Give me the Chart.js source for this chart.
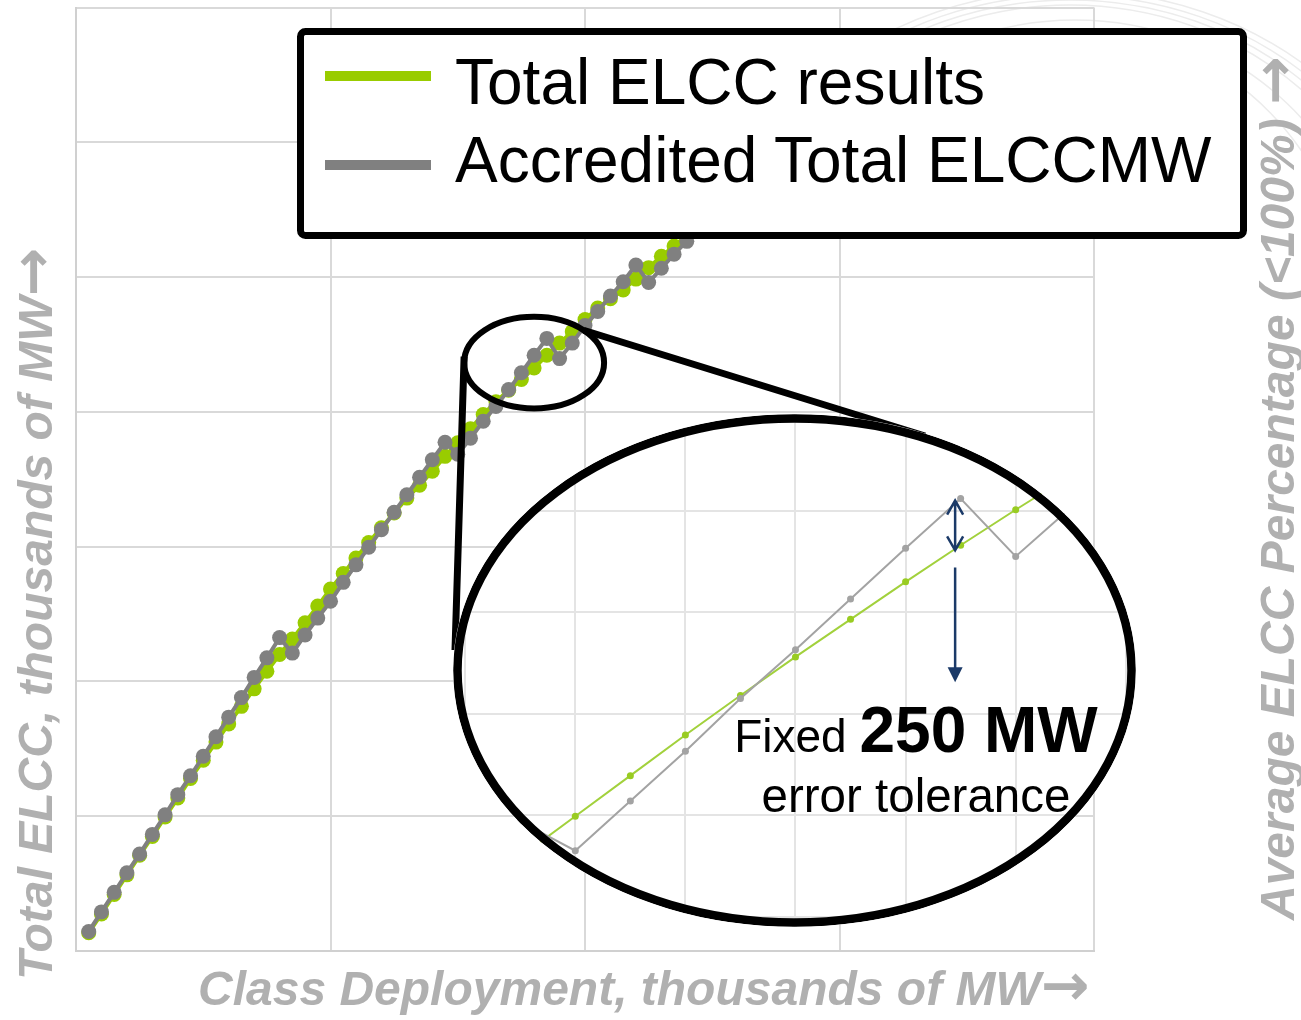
<!DOCTYPE html>
<html lang="en">
<head>
<meta charset="UTF-8">
<title>Total ELCC vs accredited ELCC</title>
<script src="https://cdn.jsdelivr.net/npm/chart.js"></script>
<style>
  html, body { margin: 0; padding: 0; background: #fff; }
  #wrap { position: relative; width: 1301px; height: 1020px; overflow: hidden; font-family: "Liberation Sans", Arial, sans-serif; }
  #bg, #overlay, #mainChart { position: absolute; left: 0; top: 0; }
  #zoomChart { position: absolute; left: 453px; top: 414px; clip-path: ellipse(50% 50% at 50% 50%); }
  svg text { font-family: "Liberation Sans", Arial, sans-serif; }
  svg .arr { font-family: "DejaVu Sans", sans-serif; font-style: normal; }
</style>
</head>
<body>
<div id="wrap">
  <svg id="bg" width="1301" height="1020">
    <defs>
      <clipPath id="corner">
        <rect x="700" y="0" width="601" height="28"/>
        <rect x="1094" y="0" width="207" height="300"/>
      </clipPath>
    </defs>
    <g clip-path="url(#corner)" fill="none" stroke="#ececec" stroke-width="1.5">
      <ellipse cx="1070" cy="300" rx="330" ry="295"/>
      <ellipse cx="1070" cy="300" rx="340" ry="300"/>
      <ellipse cx="1070" cy="300" rx="350" ry="305"/>
      <ellipse cx="1070" cy="300" rx="360" ry="310"/>
      <ellipse cx="1075" cy="305" rx="300" ry="285"/>
      <ellipse cx="1080" cy="310" rx="270" ry="278"/>
    </g>
  </svg>
  <canvas id="mainChart" width="1301" height="1020"></canvas>
  <canvas id="zoomChart" width="683" height="513"></canvas>
  <svg id="overlay" width="1301" height="1020">
    <!-- legend -->
    <rect x="300.5" y="31.5" width="943" height="204" rx="5" fill="#fff" stroke="#000" stroke-width="7"/>
    <rect x="325" y="71" width="106" height="10" fill="#99cc00"/>
    <rect x="325" y="160" width="106" height="10" fill="#808080"/>
    <text x="455" y="104" font-size="64" fill="#000">Total ELCC results</text>
    <text x="455" y="182" font-size="64" fill="#000">Accredited Total ELCCMW</text>
    <!-- axis titles -->
    <text transform="translate(52,980) rotate(-90)" font-size="48" font-weight="bold" font-style="italic" fill="#b0b0b0">Total ELCC, thousands of MW<tspan class="arr" font-size="58">→</tspan></text>
    <text x="198" y="1005" font-size="48" font-weight="bold" font-style="italic" fill="#b0b0b0">Class Deployment, thousands of MW<tspan class="arr" font-size="58">→</tspan></text>
    <text transform="translate(1294,920) rotate(-90)" font-size="48" font-weight="bold" font-style="italic" fill="#b0b0b0">Average ELCC Percentage (&lt;100%) <tspan class="arr" font-size="58">→</tspan></text>
    <!-- inset note -->
    <text x="916" y="752" text-anchor="middle" font-size="46" fill="#000">Fixed <tspan font-weight="bold" font-size="64">250 MW</tspan></text>
    <text x="916" y="812" text-anchor="middle" font-size="47.5" fill="#000">error tolerance</text>
  </svg>
</div>

<script>
// class deployment, thousands of MW (one point per 250 MW step)
const deployment = [0.25, 0.5, 0.75, 1, 1.25, 1.5, 1.75, 2, 2.25, 2.5,
  2.75, 3, 3.25, 3.5, 3.75, 4, 4.25, 4.5, 4.75, 5,
  5.25, 5.5, 5.75, 6, 6.25, 6.5, 6.75, 7, 7.25, 7.5,
  7.75, 8, 8.25, 8.5, 8.75, 9, 9.25, 9.5, 9.75, 10,
  10.25, 10.5, 10.75, 11, 11.25, 11.5, 11.75, 12, 12.25, 12.5, 12.75];

// total ELCC, thousands of MW
const totalElcc = [0.27, 0.55, 0.84, 1.13, 1.42, 1.70, 1.99, 2.27, 2.56, 2.83,
  3.10, 3.37, 3.63, 3.89, 4.15, 4.40, 4.63, 4.87, 5.12, 5.37,
  5.60, 5.83, 6.06, 6.28, 6.50, 6.72, 6.91, 7.12, 7.34, 7.54,
  7.75, 7.96, 8.15, 8.32, 8.48, 8.65, 8.84, 9.02, 9.19, 9.37,
  9.54, 9.68, 9.81, 9.97, 10.14, 10.31, 10.46, 10.62, 10.77, 10.92, 11.07];

const accreditedElcc = [0.29, 0.58, 0.87, 1.16, 1.44, 1.73, 2.02, 2.32, 2.60, 2.89,
  3.18, 3.47, 3.76, 4.06, 4.35, 4.65, 4.42, 4.69, 4.94, 5.19,
  5.47, 5.73, 5.99, 6.25, 6.51, 6.77, 7.03, 7.29, 7.55, 7.37,
  7.61, 7.86, 8.08, 8.33, 8.58, 8.84, 9.09, 8.79, 9.02, 9.28,
  9.49, 9.72, 9.93, 10.18, 9.92, 10.13, 10.34, 10.53, 10.74, 10.95, 11.16];

// zoomed-in view (steps inside the magnifier)
const zoomSteps = [-1, 0, 1, 2, 3, 4, 5, 6, 7, 8, 9];
const zoomElcc = [0.59, 0.99, 1.39, 1.79, 2.18, 2.56, 2.93, 3.30, 3.66, 4.01, 4.35];
const zoomAccredited = [0.94, 0.65, 1.14, 1.63, 2.15, 2.63, 3.13, 3.63, 4.12, 3.55, 4.03];

const GREEN = '#99cc00';
const GRAY = '#808080';
const NAVY = '#1b3a68';

const pts = (xs, ys) => xs.map((x, i) => ({ x: x, y: ys[i] }));

// small magnifier ring on the main curve + the two connector lines
const magnifier = {
  id: 'magnifier',
  afterDraw(chart) {
    const { ctx, scales: { x, y } } = chart;
    const cx = x.getPixelForValue(9.0), cy = y.getPixelForValue(8.73);
    const rx = x.getPixelForValue(9.0 + 1.375) - cx;
    const ry = cy - y.getPixelForValue(8.73 + 0.68);
    ctx.save();
    ctx.strokeStyle = '#000';
    ctx.lineWidth = 6;
    ctx.beginPath();
    ctx.ellipse(cx, cy, rx, ry, 0, 0, Math.PI * 2);
    ctx.stroke();
    ctx.lineWidth = 7;
    ctx.beginPath();
    ctx.moveTo(cx - rx, cy - 6);
    ctx.lineTo(455, 650);
    ctx.moveTo(cx + rx * 0.7071, cy - ry * 0.7071);
    ctx.lineTo(925, 436);
    ctx.stroke();
    ctx.restore();
  }
};

const gridStyle = { color: '#d9d9d9', lineWidth: 2, drawTicks: false };

new Chart(document.getElementById('mainChart'), {
  type: 'line',
  data: {
    datasets: [
      {
        label: 'Accredited Total ELCCMW',
        data: pts(deployment, accreditedElcc),
        borderColor: GRAY,
        pointBackgroundColor: GRAY,
        borderWidth: 4,
        pointRadius: 7.5,
        pointBorderWidth: 0,
        order: 1
      },
      {
        label: 'Total ELCC results',
        data: pts(deployment, totalElcc),
        borderColor: GREEN,
        pointBackgroundColor: GREEN,
        borderWidth: 4,
        pointRadius: 7.5,
        pointBorderWidth: 0,
        order: 2
      }
    ]
  },
  options: {
    responsive: false,
    animation: false,
    devicePixelRatio: 1,
    layout: { padding: { left: 76, right: 207, top: 0, bottom: 69 } },
    plugins: { legend: { display: false }, tooltip: { enabled: false } },
    scales: {
      x: {
        type: 'linear', min: 0, max: 20,
        ticks: { display: false, stepSize: 5 },
        grid: gridStyle,
        border: { color: '#d0d0d0', width: 2 }
      },
      y: {
        type: 'linear', min: 0, max: 14,
        ticks: { display: false, stepSize: 2 },
        grid: gridStyle,
        border: { color: '#d0d0d0', width: 2 }
      }
    }
  },
  plugins: [magnifier]
});

// white lens, tolerance arrows and the thick ring of the big magnifier
const lens = {
  id: 'lens',
  beforeDraw(chart) {
    const ctx = chart.ctx;
    ctx.save();
    ctx.fillStyle = '#fff';
    ctx.fillRect(0, 0, chart.width, chart.height);
    ctx.restore();
  },
  afterDraw(chart) {
    const { ctx, scales: { x, y } } = chart;
    const ax = x.getPixelForValue(6.9);
    const t1 = y.getPixelForValue(4.10), t2 = y.getPixelForValue(3.61);
    const p1 = y.getPixelForValue(3.44), p2 = y.getPixelForValue(2.31);
    ctx.save();
    ctx.strokeStyle = NAVY;
    ctx.fillStyle = NAVY;
    ctx.lineWidth = 2.5;
    ctx.beginPath();
    ctx.moveTo(ax, t1); ctx.lineTo(ax, t2);
    ctx.moveTo(ax - 8, t1 + 14); ctx.lineTo(ax, t1); ctx.lineTo(ax + 8, t1 + 14);
    ctx.moveTo(ax - 8, t2 - 14); ctx.lineTo(ax, t2); ctx.lineTo(ax + 8, t2 - 14);
    ctx.moveTo(ax, p1); ctx.lineTo(ax, p2 - 12);
    ctx.stroke();
    ctx.beginPath();
    ctx.moveTo(ax - 7.5, p2 - 15); ctx.lineTo(ax + 7.5, p2 - 15); ctx.lineTo(ax, p2);
    ctx.closePath();
    ctx.fill();

    ctx.strokeStyle = '#000';
    ctx.lineWidth = 8.5;
    ctx.beginPath();
    ctx.ellipse(chart.width / 2, chart.height / 2, chart.width / 2 - 4.5, chart.height / 2 - 4.5, 0, 0, Math.PI * 2);
    ctx.stroke();
    ctx.restore();
  }
};

const zoomGrid = { color: '#e4e4e4', lineWidth: 2, drawTicks: false };

new Chart(document.getElementById('zoomChart'), {
  type: 'line',
  data: {
    datasets: [
      {
        label: 'Accredited Total ELCCMW',
        data: pts(zoomSteps, zoomAccredited),
        borderColor: '#a3a3a3',
        pointBackgroundColor: '#a3a3a3',
        borderWidth: 2,
        pointRadius: 3.5,
        pointBorderWidth: 0,
        order: 1
      },
      {
        label: 'Total ELCC results',
        data: pts(zoomSteps, zoomElcc),
        borderColor: '#a2d13c',
        pointBackgroundColor: '#99cc22',
        borderWidth: 2,
        pointRadius: 3.5,
        pointBorderWidth: 0,
        order: 2
      }
    ]
  },
  options: {
    responsive: false,
    animation: false,
    devicePixelRatio: 1,
    layout: { padding: 0 },
    plugins: { legend: { display: false }, tooltip: { enabled: false } },
    scales: {
      x: {
        type: 'linear', min: -2.149, max: 10.113,
        ticks: { display: false, stepSize: 2, includeBounds: false },
        grid: zoomGrid,
        border: { display: false }
      },
      y: {
        type: 'linear', min: -0.062, max: 4.914,
        ticks: { display: false, stepSize: 1, includeBounds: false },
        grid: zoomGrid,
        border: { display: false }
      }
    }
  },
  plugins: [lens]
});
</script>
</body>
</html>
